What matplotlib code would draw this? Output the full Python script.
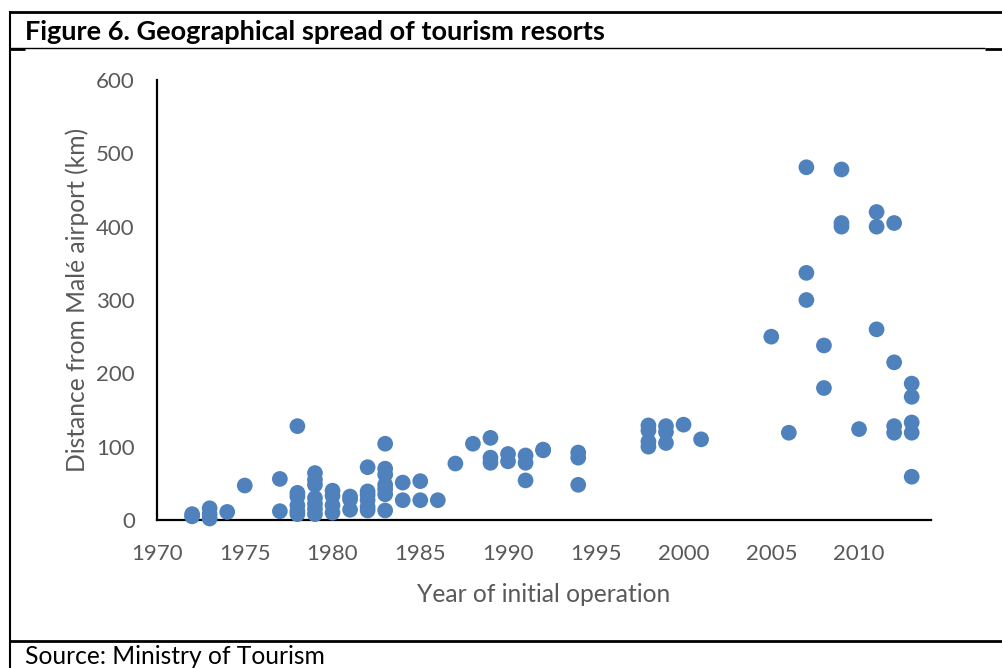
import matplotlib
matplotlib.use("Agg")
import matplotlib.pyplot as plt
from matplotlib.lines import Line2D

# ---- data: year of initial operation -> distances (km) ----
years_dist = {
    1972: [5, 8],
    1973: [2, 8, 16],
    1974: [11],
    1975: [47],
    1977: [56, 12],
    1978: [128, 37, 32, 20, 12, 8],
    1979: [64, 55, 48, 30, 22, 15, 8],
    1980: [40, 33, 20, 10],
    1981: [32, 28, 14],
    1982: [72, 39, 34, 27, 18, 13],
    1983: [104, 70, 62, 48, 42, 35, 13],
    1984: [51, 27],
    1985: [53, 27],
    1986: [27],
    1987: [77],
    1988: [104],
    1989: [112, 85, 78],
    1990: [90, 80],
    1991: [88, 78, 54],
    1992: [96, 95],
    1994: [92, 85, 48],
    1998: [129, 122, 107, 100],
    1999: [128, 120, 105],
    2000: [130],
    2001: [110],
    2005: [250],
    2006: [119],
    2007: [481, 337, 300],
    2008: [238, 180],
    2009: [478, 405, 400],
    2010: [124],
    2011: [420, 400, 260],
    2012: [405, 215, 128, 119],
    2013: [186, 168, 133, 119, 59],
}
years = [y for y, ds in years_dist.items() for _ in ds]
distances = [d for ds in years_dist.values() for d in ds]

x_ticks = [1970, 1975, 1980, 1985, 1990, 1995, 2000, 2005, 2010]
y_ticks = [0, 100, 200, 300, 400, 500, 600]

title = "Figure 6. Geographical spread of tourism resorts"
source = "Source: Ministry of Tourism"
xlabel = "Year of initial operation"
ylabel = "Distance from Malé airport (km)"

plt.rcParams['font.family'] = ['Lato', 'DejaVu Sans']

W, H = 1002, 668
fig = plt.figure(figsize=(W / 100, H / 100), dpi=100)

ax = fig.add_axes([157 / W, 1 - 520 / H, (931 - 157) / W, (520 - 80) / H])
ax.scatter(years, distances, s=128, color='#4F81BD', edgecolors='none', zorder=3, clip_on=False)
ax.set_xlim(1970, 2014.1)
ax.set_ylim(0, 600)
ax.set_xticks(x_ticks)
ax.set_yticks(y_ticks)
ax.tick_params(length=0, labelsize=16, labelcolor='#595959')
ax.tick_params(axis='x', pad=17)
ax.tick_params(axis='y', pad=16)
for s in ['top', 'right']:
    ax.spines[s].set_visible(False)
for s in ['left', 'bottom']:
    ax.spines[s].set_linewidth(1.6)
    ax.spines[s].set_color('black')
ax.set_xlabel(xlabel, fontsize=17.7, color='#595959', labelpad=14)
ax.set_ylabel(ylabel, fontsize=17.7, color='#595959', labelpad=5)

def px_line(x0, y0, x1, y1, lw):
    fig.add_artist(Line2D([x0 / W, x1 / W], [1 - y0 / H, 1 - y1 / H],
                          transform=fig.transFigure, color='black', lw=lw,
                          solid_capstyle='butt'))

# frame lines
px_line(9, 12, 1002, 12, 2.0)
px_line(10, 11, 10, 668, 1.5)
px_line(9, 48, 985, 48, 1.0)
px_line(9, 48.5, 25, 48.5, 2.0)
px_line(985, 48.5, 1002, 48.5, 2.0)
px_line(9, 641, 1002, 641, 2.0)

fig.text(25 / W, 1 - 32 / H, title, fontsize=19.5, fontweight='bold', va='center', ha='left')
fig.text(25 / W, 1 - 657 / H, source, fontsize=17.7, va='center', ha='left')

fig.savefig('out.png', dpi=100)
